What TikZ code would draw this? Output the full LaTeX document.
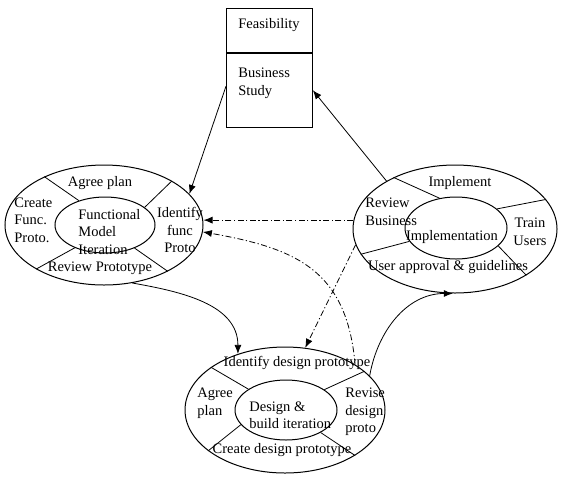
\documentclass[tikz,border=0pt]{standalone}
\usepackage{fontspec}
\setmainfont{Liberation Serif}
\usetikzlibrary{arrows.meta, shapes.geometric, positioning}

\begin{document}
\begin{tikzpicture}[x=1pt, y=-1pt,
	>={Latex[length=9pt,width=7pt]},
	font=\fontsize{14.5}{17.5}\selectfont,
	line width=0.8pt,
	ring/.style={ellipse, draw, line width=1pt, inner sep=0pt},
	txt/.style={inner sep=0pt, align=left},
	dashdot/.style={dash pattern=on 6pt off 2.5pt on 1.2pt off 2.5pt}]
	\useasboundingbox (0,0) rectangle (561,480);

	% feasibility box
	\node at (226,8) (feas) [draw, anchor=north west, minimum width=86pt, minimum height=44pt] {};
	\node at (feas.south west) (study) [draw, anchor=north west, minimum width=86pt, minimum height=74pt] {};
	\node at (238,25) (feastxt) [txt, anchor=west] {Feasibility};
	\node at (238,83.5) (studytxt) [txt, anchor=west] {Business\\Study};

	% functional model iteration
	\node at (104,225) (funcout) [ring, minimum width=198pt, minimum height=120pt] {};
	\node at (105,225) (funcin) [ring, minimum width=100pt, minimum height=56pt] {};
	\draw (funcin.137) -- (funcout.141);
	\draw (funcin.24) -- (funcout.33);
	\draw (funcin.217) -- (funcout.213);
	\draw (funcin.-38) -- (funcout.-36);
	\node at (100,183) (fagree) [txt] {Agree plan};
	\node at (14,220) (fcreate) [txt, anchor=west] {Create\\Func.\\Proto.};
	\node at (78,232) (fmodel) [txt, anchor=west] {Functional\\Model\\Iteration};
	\node at (180,230) (fident) [txt, align=center] {Identify\\func\\Proto};
	\node at (100,268) (freview) [txt] {Review Prototype};

	% implementation
	\node at (455,229) (implout) [ring, minimum width=204pt, minimum height=128pt] {};
	\node at (456,228) (implin) [ring, minimum width=102pt, minimum height=62pt] {};
	\draw (implin.119) -- (implout.140);
	\draw (implin.25) -- (implout.18);
	\draw (implin.196) -- (implout.195);
	\draw (implin.-23) -- (implout.-33);
	\node at (460,183) (iimpl) [txt] {Implement};
	\node at (365,212) (ireview) [txt, anchor=west] {Review\\Business};
	\node at (452,237) (iiter) [txt] {Implementation};
	\node at (530,232) (itrain) [txt, align=center] {Train\\Users};
	\node at (448,267) (iuser) [txt] {User approval \& guidelines};

	% design and build iteration
	\node at (285,410) (designout) [ring, minimum width=200pt, minimum height=126pt] {};
	\node at (286,410) (designin) [ring, minimum width=102pt, minimum height=60pt] {};
	\draw (designin.151) -- (designout.150);
	\draw (designin.28) -- (designout.26);
	\draw (designin.198) -- (designout.208);
	\draw (designin.-33) -- (designout.-33);
	\node at (297,363) (dident) [txt] {Identify design prototype};
	\node at (197,403) (dagree) [txt, anchor=west] {Agree\\plan};
	\node at (249,415) (diter) [txt, anchor=west] {Design \&\\build iteration};
	\node at (345,412) (drevise) [txt, anchor=west] {Revise\\design\\proto};
	\node at (282,450) (dcreate) [txt] {Create design prototype};

	% connectors
	\draw[->] ([yshift=4pt]study.west) -- (funcout.20);
	\draw[->] (implout.145) -- (study.east);
	\draw[->, dashdot] (implout.175) -- (implout.175 -| funcout.east);
	\draw[->, dashdot] (implout.189) -- (designout.72);
	\draw[->, dashdot] (designout.33) to[out=95, in=-10, looseness=1.2] (funcout.-4);
	\draw[->] (funcout.-64) to[out=-10, in=90] (designout.130);
	\draw[->] (designout.22) to[out=80, in=180] (implout.-92);
\end{tikzpicture}
\end{document}
